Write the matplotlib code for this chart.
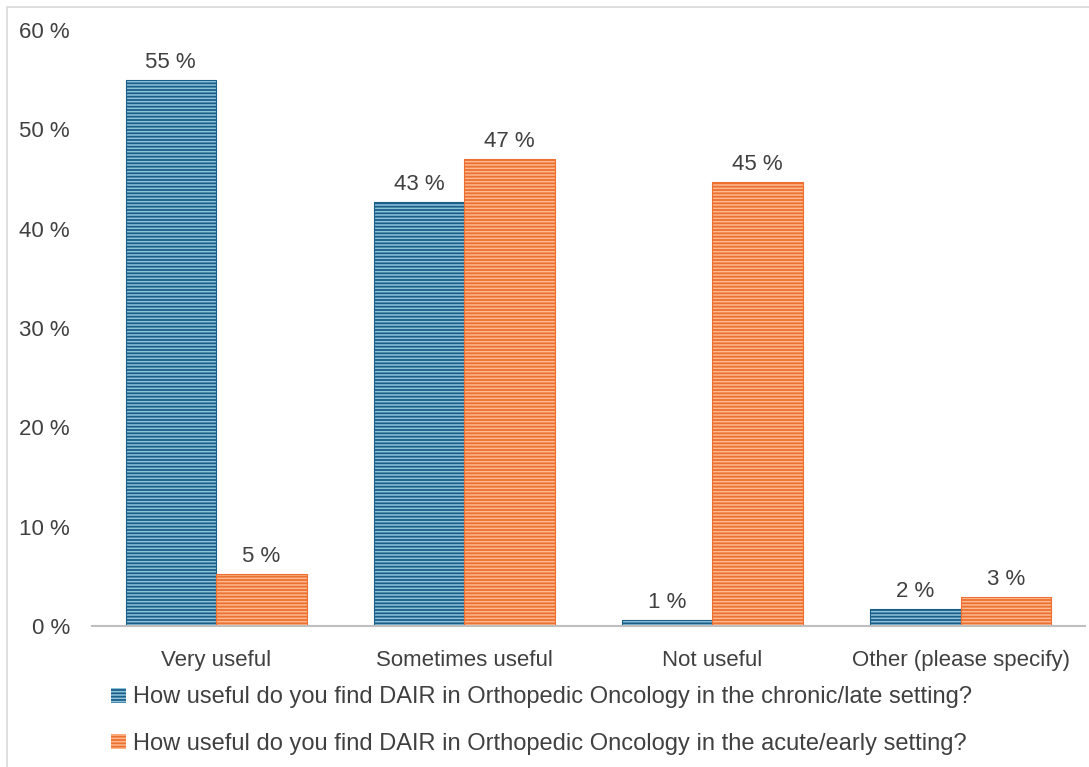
import matplotlib.pyplot as plt
from matplotlib.patches import Rectangle
import numpy as np

categories = ["Very useful", "Sometimes useful", "Not useful", "Other (please specify)"]
chronic = [55.0, 42.7, 0.6, 1.7]
acute = [5.2, 47.0, 44.7, 2.9]
series_names = [
    "How useful do you find DAIR in Orthopedic Oncology in the chronic/late setting?",
    "How useful do you find DAIR in Orthopedic Oncology in the acute/early setting?",
]
y_ticks = [0, 10, 20, 30, 40, 50, 60]

plt.rcParams["font.family"] = ["Liberation Sans", "DejaVu Sans"]
plt.rcParams["hatch.linewidth"] = 1.1

text_color = "#404040"
fig = plt.figure(figsize=(10.89, 7.67), dpi=100)
ax = fig.add_axes([0.0845, 0.1838, 0.9115, 0.7772])

x = np.arange(len(categories))
w = 0.365

styles = [("#1b5f88", "#8ec3dc"), ("#ee7030", "#fbb98f")]
handles = []
for i, (vals, (face, stripe)) in enumerate(zip([chronic, acute], styles)):
    pos = x + (i - 0.5) * w
    bars = ax.bar(pos, vals, width=w, color=face, edgecolor=stripe,
                  linewidth=0, hatch="-----", label=series_names[i])
    # thin outline in the base colour
    ax.bar(pos, vals, width=w, fill=False, edgecolor=face, linewidth=0.8)
    ax.bar_label(bars, labels=[f"{v:.0f} %" for v in vals], padding=5,
                 fontsize=16, color=text_color)
    handles.append(bars)

ax.set_xlim(-0.5, len(categories) - 0.5)
ax.set_ylim(0, 60)
ax.set_yticks(y_ticks)
ax.set_yticklabels([f"{t} %" for t in y_ticks])
ax.set_xticks(x)
ax.set_xticklabels(categories)
ax.tick_params(axis="both", length=0, labelsize=16, colors=text_color)
ax.tick_params(axis="y", pad=16)
ax.tick_params(axis="x", pad=17)

for side in ["top", "right", "left"]:
    ax.spines[side].set_visible(False)
ax.spines["bottom"].set_color("#bfbfbf")
ax.spines["bottom"].set_linewidth(1.5)

leg = fig.legend(handles=handles, loc="upper left",
                 bbox_to_anchor=(102 / 1089, 1 - 677 / 767),
                 frameon=False, fontsize=17, handlelength=0.6,
                 handleheight=0.6, handletextpad=0.3, labelspacing=1.05,
                 borderaxespad=0)
for t in leg.get_texts():
    t.set_color(text_color)

# light frame around the chart area
fig.patches.append(Rectangle((7 / 1089, -0.01), 1.02, 1 - 7 / 767 + 0.01,
                             transform=fig.transFigure, fill=False,
                             edgecolor="#d9d9d9", linewidth=1.2))

fig.savefig("out.png", dpi=100)
